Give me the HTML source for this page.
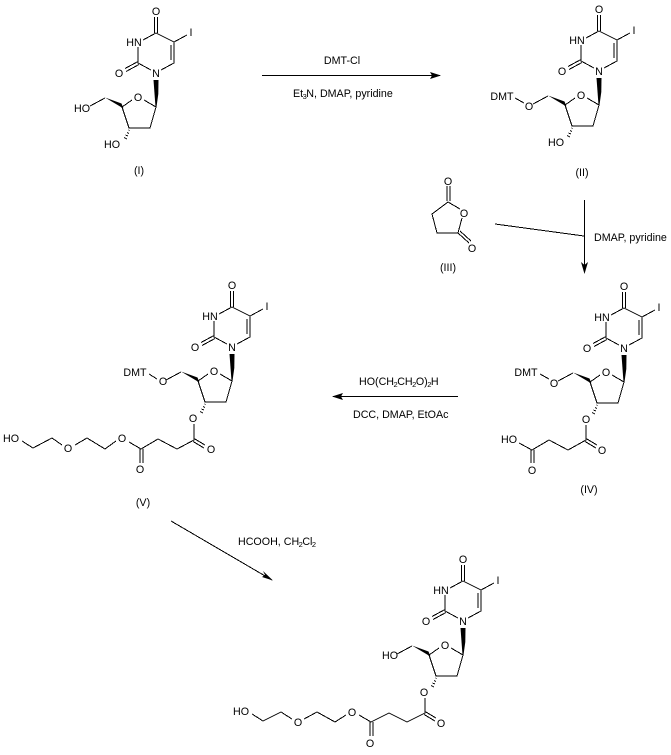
<!DOCTYPE html>
<html><head><meta charset="utf-8">
<style>
html,body{margin:0;padding:0;background:#fff;width:671px;height:755px;overflow:hidden}
svg{display:block}
text{font-family:"Liberation Sans",sans-serif;font-size:10.7px;fill:#000}
.m{text-anchor:middle}
path.b{fill:none;stroke:#000;stroke-width:1;shape-rendering:crispEdges}
</style></head><body>
<svg width="671" height="755" viewBox="0 0 671 755" xmlns="http://www.w3.org/2000/svg">
<defs>
<g id="core">
<path class="b" d="M5 -3L18 -10L18 -31L0 -40L-13 -33M15 -13L15 -28M18 -31L31 -38M-1.500 -40L-1.500 -56M1.500 -40L1.500 -56M-18 -26L-18 -10L-5 -3M-18 -11.500L-31 -4.500M-17 -8.500L-30 -1.500M0 34L-12 27M-24 27L-34 34L-27 55L-6 55L0 34M-51 25L-66 33"/>
<polygon points="-2.500,7 2.500,7 2.300,21 0.500,34 -0.500,34"/>
<polygon points="-51,24.500 -34.500,30.500 -32.500,35.500"/>
</g>
<g id="hash"><path class="b" d="M-27.500 57L-26.500 57.500M-29 59.500L-27 60.500M-30.500 62L-28 63M-32 64.500L-29 66"/></g>
</defs>

<!-- I -->
<g transform="translate(156,73)">
<use href="#core"/><use href="#hash"/>
<text class="m" x="0" y="-58">O</text><text class="m" x="-22" y="-27">HN</text><text class="m" x="35" y="-37">I</text>
<text class="m" x="-37" y="4">O</text><text class="m" x="0" y="4">N</text><text class="m" x="-18" y="28">O</text>
<text class="m" x="-74" y="39">HO</text><text class="m" x="-44" y="75">HO</text>
</g>
<text class="m" x="139" y="174">(I)</text>

<!-- II -->
<g transform="translate(599,71)">
<use href="#core"/><use href="#hash"/>
<text class="m" x="0" y="-58">O</text><text class="m" x="-22" y="-27">HN</text><text class="m" x="35" y="-37">I</text>
<text class="m" x="-37" y="4">O</text><text class="m" x="0" y="4">N</text><text class="m" x="-18" y="28">O</text>
<text class="m" x="-70" y="39">O</text><text class="m" x="-97" y="29">DMT</text><text class="m" x="-43" y="75">HO</text>
<path class="b" d="M-84 27L-75 32"/>
</g>
<text class="m" x="582" y="176">(II)</text>

<!-- III -->
<path class="b" d="M447 186L447 201M450 186L450 201M448 202L460 209M462 218L458 233L437 233L432 214L448 202M458 233L469 243M460 231L471 241"/>
<text class="m" x="448" y="185">O</text><text class="m" x="464" y="217">O</text><text class="m" x="472" y="252">O</text>
<text class="m" x="448" y="271">(III)</text>

<!-- IV -->
<g transform="translate(624,348)">
<use href="#core"/><use href="#hash"/>
<text class="m" x="0" y="-58">O</text><text class="m" x="-22" y="-27">HN</text><text class="m" x="35" y="-37">I</text>
<text class="m" x="-37" y="4">O</text><text class="m" x="0" y="4">N</text><text class="m" x="-18" y="28">O</text>
<text class="m" x="-70" y="39">O</text><text class="m" x="-98" y="28">DMT</text>
<path class="b" d="M-84 26L-75 31"/>
</g>
<path class="b" d="M586 425L586 440L568 450L549 440L532 450L519 443M586 438.500L597 445M585 441.500L596 448M531 450L531 463M534 450L534 463"/>
<text class="m" x="586" y="423">O</text><text class="m" x="602" y="454">O</text><text class="m" x="532" y="474">O</text><text class="m" x="509" y="443">HO</text>
<text class="m" x="589" y="493">(IV)</text>

<!-- V -->
<g transform="translate(232,347)">
<use href="#core"/><use href="#hash"/>
<text class="m" x="0" y="-58">O</text><text class="m" x="-22" y="-27">HN</text><text class="m" x="35" y="-37">I</text>
<text class="m" x="-37" y="4">O</text><text class="m" x="0" y="4">N</text><text class="m" x="-18" y="28">O</text>
<text class="m" x="-69" y="38">O</text><text class="m" x="-97" y="29">DMT</text>
<path class="b" d="M-83 27L-75 32"/>
</g>
<path class="b" d="M194 424L194 440L177 449L158 439L141 449L129 442M194 438.500L205 445M193 441.500L204 448M140 449L140 463M143 449L143 463M116 441L105 449L87 438L75 445M62 445L52 438L33 448L22 441"/>
<text class="m" x="193" y="422">O</text><text class="m" x="211" y="453">O</text><text class="m" x="140" y="473">O</text><text class="m" x="122" y="442">O</text><text class="m" x="68" y="452">O</text><text class="m" x="11" y="442">HO</text>
<text class="m" x="143" y="506">(V)</text>

<!-- VI -->
<g transform="translate(463,621)">
<use href="#core"/><use href="#hash"/>
<text class="m" x="0" y="-58">O</text><text class="m" x="-22" y="-27">HN</text><text class="m" x="35" y="-37">I</text>
<text class="m" x="-37" y="4">O</text><text class="m" x="0" y="4">N</text><text class="m" x="-18" y="28">O</text>
<text class="m" x="-73" y="38">HO</text>
</g>
<path class="b" d="M425 698L425 713L407 722L389 713L371 722L359 715M425 711.500L436 718M424 714.500L435 721M370 722L370 736M373 722L373 736M346 715L335 722L317 712L304 719M292 719L281 712L263 721L252 714"/>
<text class="m" x="424" y="696">O</text><text class="m" x="441" y="727">O</text><text class="m" x="370" y="747">O</text><text class="m" x="352" y="716">O</text><text class="m" x="298" y="726">O</text><text class="m" x="241" y="715">HO</text>

<!-- Arrows -->
<path class="b" d="M262 75.500L440 75.500"/>
<polygon points="441,75.500 430,72 432,75.500 430,79"/>
<text class="m" x="342" y="64">DMT-Cl</text>
<text x="293" y="97">Et<tspan font-size="7.500" dy="2" dx="-0.500">3</tspan><tspan dy="-2" dx="-0.500">N, DMAP, pyridine</tspan></text>

<path class="b" d="M584.500 200L584.500 272M495 224L584 236"/>
<polygon points="584.500,274 581,262 584.500,265 588,262"/>
<text x="594" y="241">DMAP, pyridine</text>

<path class="b" d="M458 396.500L333 396.500"/>
<polygon points="332,396.500 343,393 341,396.500 343,400"/>
<text x="359" y="385">HO(CH<tspan font-size="7.500" dy="2" dx="-0.500">2</tspan><tspan dy="-2" dx="-0.500">CH</tspan><tspan font-size="7.500" dy="2" dx="-0.500">2</tspan><tspan dy="-2" dx="-0.500">O)</tspan><tspan font-size="7.500" dy="2" dx="-0.500">2</tspan><tspan dy="-2" dx="-0.500">H</tspan></text>
<text x="353" y="418">DCC, DMAP, EtOAc</text>

<path class="b" d="M171 521L272 580"/>
<polygon points="273,580.500 262,577 265,575 263,571"/>
<text x="238" y="545">HCOOH, CH<tspan font-size="7.500" dy="2" dx="-0.500">2</tspan><tspan dy="-2" dx="-0.500">Cl</tspan><tspan font-size="7.500" dy="2" dx="-0.500">2</tspan></text>
</svg>
</body></html>
